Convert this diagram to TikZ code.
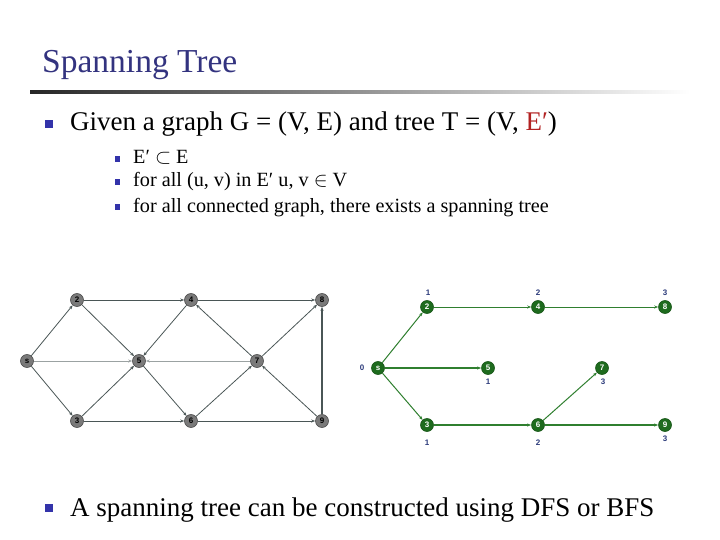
\documentclass[tikz,border=0pt]{standalone}
\usepackage{fontspec}
\setmainfont{Liberation Serif}
\setsansfont{Liberation Sans}
\usetikzlibrary{arrows.meta}
\definecolor{titleblue}{HTML}{33337F}
\definecolor{bulletblue}{HTML}{3333AA}
\definecolor{ered}{HTML}{B22222}
\definecolor{gedge}{HTML}{4A5656}
\definecolor{gnode}{HTML}{7A7A7A}
\definecolor{tgreen}{HTML}{1E6B1E}
\definecolor{tedge}{HTML}{2F7F2F}
\definecolor{tlabel}{HTML}{2B3A7A}
\tikzset{
  txt/.style={anchor=base west, inner sep=0pt, font=\fontsize{27}{30}\selectfont},
  subtxt/.style={anchor=base west, inner sep=0pt, font=\fontsize{20.2}{22}\selectfont},
  bul/.style={fill=bulletblue, draw=none, minimum size=8pt, inner sep=0pt},
  sbul/.style={fill=bulletblue, draw=none, minimum size=5.5pt, inner sep=0pt},
  gnd/.style={circle, fill=gnode, draw=black!70, line width=0.6pt, minimum size=13pt, inner sep=0pt, font=\sffamily\bfseries\fontsize{8}{8}\selectfont},
  ged/.style={draw=gedge, line width=0.8pt, -{Stealth[length=4pt,width=3pt]}},
  tnd/.style={circle, fill=tgreen, draw=tgreen!80!black, line width=0.6pt, minimum size=13pt, inner sep=0pt, text=white, font=\sffamily\bfseries\fontsize{8}{8}\selectfont},
  ted/.style={draw=tedge, line width=1pt, -{Stealth[length=4pt,width=3pt]}},
  tlab/.style={text=tlabel, inner sep=0pt, font=\sffamily\bfseries\fontsize{8}{8}\selectfont}
}
\begin{document}
\begin{tikzpicture}[x=1pt, y=-1pt]
\useasboundingbox (0,0) rectangle (720,540);
% title
\node[anchor=base west, inner sep=0pt, text=titleblue, font=\fontsize{33.5}{36}\selectfont] (title) at (42,73) {Spanning Tree};
\shade[left color=black!85, right color=white] (30,90.5) rectangle (690,93.5);
% bullets
\node[bul] (b1) at (48.5,124) {};
\node[txt] (t1) at (70,131) {Given a graph G = (V, E) and tree T = (V, \textcolor{ered}{E′})};
\node[sbul] (s1) at (117.5,159) {};
\node[subtxt] (st1) at (133,164) {E′ $\subset$ E};
\node[sbul] (s2) at (117.5,182) {};
\node[subtxt] (st2) at (133,187) {for all (u, v) in E′ u, v $\in$ V};
\node[sbul] (s3) at (117.5,207) {};
\node[subtxt] (st3) at (133,212) {for all connected graph, there exists a spanning tree};
\node[bul] (b2) at (48.5,508) {};
\node[txt] (t2) at (70,516) {A spanning tree can be constructed using DFS or BFS};
% left graph
\node[gnd] (ls) at (27,361) {s};
\node[gnd] (l2) at (77,300) {2};
\node[gnd] (l4) at (191,300) {4};
\node[gnd] (l8) at (322,300) {8};
\node[gnd] (l5) at (139,361) {5};
\node[gnd] (l7) at (257,361) {7};
\node[gnd] (l3) at (77,421) {3};
\node[gnd] (l6) at (191,421) {6};
\node[gnd] (l9) at (322,421) {9};
\draw[ged] (ls) -- (l2);
\draw[ged, draw=gedge!55] (ls) -- (l5);
\draw[ged] (ls) -- (l3);
\draw[ged] (l2) -- (l4);
\draw[ged] (l2) -- (l5);
\draw[ged] (l4) -- (l8);
\draw[ged] (l4) -- (l5);
\draw[ged] (l7) -- (l4);
\draw[ged, draw=gedge!55] (l7) -- (l5);
\draw[ged] (l7) -- (l8);
\draw[ged] (l3) -- (l5);
\draw[ged] (l3) -- (l6);
\draw[ged] (l5) -- (l6);
\draw[ged] (l6) -- (l7);
\draw[ged] (l6) -- (l9);
\draw[ged] (l9) -- (l7);
\draw[ged, line width=2pt] (l9) -- (l8);
% right tree
\node[tnd] (rs) at (378,368) {s};
\node[tnd] (r2) at (427,307) {2};
\node[tnd] (r4) at (538,307) {4};
\node[tnd] (r8) at (665,307) {8};
\node[tnd] (r5) at (488,368) {5};
\node[tnd] (r7) at (602,368) {7};
\node[tnd] (r3) at (427,425) {3};
\node[tnd] (r6) at (538,425) {6};
\node[tnd] (r9) at (665,425) {9};
\draw[ted] (rs) -- (r2);
\draw[ted, line width=1.8pt] (rs) -- (r5);
\draw[ted] (rs) -- (r3);
\draw[ted] (r2) -- (r4);
\draw[ted] (r4) -- (r8);
\draw[ted, line width=1.8pt] (r3) -- (r6);
\draw[ted] (r6) -- (r7);
\draw[ted, line width=1.8pt] (r6) -- (r9);
% level labels
\node[tlab] (d0) at (362,368) {0};
\node[tlab] (d2) at (428,293) {1};
\node[tlab] (d4) at (538,293) {2};
\node[tlab] (d8) at (665,293) {3};
\node[tlab] (d5) at (488,382) {1};
\node[tlab] (d7) at (603,382) {3};
\node[tlab] (d3) at (427,443) {1};
\node[tlab] (d6) at (538,443) {2};
\node[tlab] (d9) at (665,439) {3};
\end{tikzpicture}
\end{document}
